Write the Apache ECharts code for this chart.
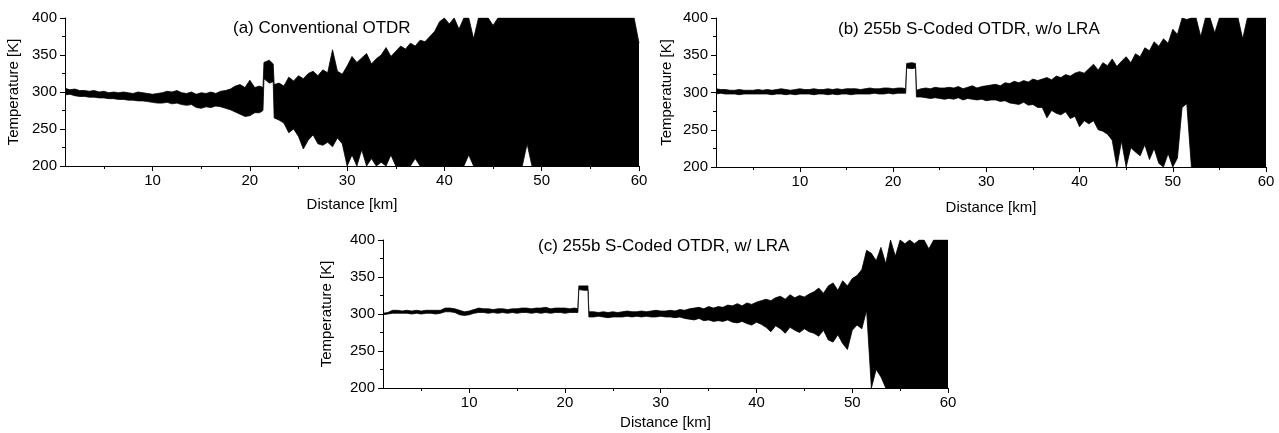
<!DOCTYPE html>
<html>
<head>
<meta charset="utf-8">
<script src="https://cdn.jsdelivr.net/npm/echarts@6/dist/echarts.min.js"></script>
<style>html,body{margin:0;padding:0;background:#fff}#chart{width:1279px;height:433px}</style>
</head>
<body>
<div id="chart"></div>
<script>
// Panel titles and axis names
const panelTitles = ['(a) Conventional OTDR', '(b) 255b S-Coded OTDR, w/o LRA', '(c) 255b S-Coded OTDR, w/ LRA'];
const xName = 'Distance [km]';
const yName = 'Temperature [K]';
const xMajorTicks = [10, 20, 30, 40, 50, 60];
const xMinorTicks = [5, 15, 25, 35, 45, 55];
// Sample positions: every 0.5 km from 1 to 60 km, plus the edges of the heated section
const sampleStart = 1, sampleEnd = 60, sampleStep = 0.5;
const heatedEdges = [21.35, 21.45, 22.4];

// Upper (HI) and lower (LO) extent of the noisy trace at each sample [K]
const aHi = [
  305,303,304,302,302,301,302,300,301,299,
  300,299,300,299,298,300,299,298,297,298,
  299,301,300,302,299,298,300,297,299,298,
  300,298,301,302,304,308,310,306,316,306,
  308,306,340,341,343,338,310,312,308,320,315,322,318,
  325,328,322,330,326,357,328,324,335,348,
  340,346,352,338,345,350,360,348,355,362,
  358,366,362,370,368,375,382,395,400,392,
  400,385,400,400,372,400,400,400,390,400,
  400,400,400,400,400,400,400,400,400,400,
  400,400,400,400,400,400,400,400,400,400,
  400,400,400,400,400,400,400,400,366];
const aLo = [
  296,297,295,294,294,293,293,292,292,291,
  291,290,290,289,289,288,288,287,286,285,
  285,286,284,285,283,282,283,279,278,280,
  279,281,280,278,276,273,270,267,268,272,
  272,275,318,316,312,314,265,262,258,245,250,240,223,
  235,242,230,228,232,226,238,230,200,215,
  200,222,200,210,200,205,200,215,200,200,
  200,200,210,200,200,200,200,200,200,200,
  200,200,200,215,200,200,200,200,200,200,
  200,200,200,200,200,230,200,200,200,200,
  200,200,200,200,200,200,200,200,200,200,
  200,200,200,200,200,200,200,200,200];

const bHi = [
  305,304,304,303,303,304,303,303,303,304,
  303,304,303,304,305,304,303,304,305,304,
  304,305,304,304,305,304,305,304,305,305,
  305,304,305,306,305,305,306,306,305,306,
  306,305,339,339,340,339,303,305,306,305,307,306,306,
  307,306,308,305,307,309,306,308,309,310,
  311,309,313,312,315,313,316,314,318,316,
  318,320,317,322,320,324,322,326,328,326,
  332,338,330,340,336,345,335,342,348,340,
  352,348,360,356,368,362,372,366,385,378,
  400,398,400,400,375,400,400,380,400,400,
  400,400,400,372,400,400,400,400,400];
const bLo = [
  298,299,298,298,298,297,298,298,298,298,
  298,298,297,298,298,297,298,297,298,298,
  298,297,298,298,297,298,297,298,298,297,
  298,298,298,298,299,298,298,299,298,299,
  299,299,333,333,332,333,294,294,293,292,293,292,291,
  292,291,293,290,292,291,290,291,289,290,
  290,288,289,286,285,284,287,283,284,280,
  280,266,276,272,270,274,265,268,254,262,
  258,262,250,248,244,236,200,235,200,226,
  220,215,230,210,225,205,200,218,200,212,
  280,285,200,200,200,200,200,200,200,200,
  200,200,200,200,200,200,200,200,200];

const cHi = [
  301,302,305,305,304,305,304,305,304,305,
  305,305,305,308,308,307,305,303,304,306,
  308,307,307,306,307,307,306,307,307,308,
  308,307,308,308,309,307,308,308,308,307,
  308,307,338,339,338,338,303,303,302,303,302,303,302,
  303,304,303,303,304,303,304,305,304,304,
  305,304,306,305,307,308,309,307,310,308,
  310,309,312,311,314,311,315,313,316,318,
  320,318,322,324,320,326,322,325,323,327,
  330,335,328,338,342,332,345,338,348,352,
  360,386,382,372,390,368,400,378,400,395,
  400,395,400,400,388,400,400,400,400];
const cLo = [
  299,300,301,301,301,301,300,301,300,301,
  301,300,301,303,303,302,299,298,299,301,
  302,302,301,302,301,302,301,302,301,302,
  302,301,302,301,302,301,302,302,301,302,
  302,302,333,333,332,332,296,296,297,296,295,296,296,
  296,297,296,297,296,297,296,296,297,296,
  296,295,296,294,293,292,294,291,292,290,
  291,290,292,289,288,290,287,285,289,286,
  282,276,284,280,274,282,278,275,280,276,
  274,270,278,265,262,272,260,252,278,285,
  280,305,200,225,215,200,200,200,200,200,
  200,200,200,200,200,200,200,200,200];

// Sample positions (km)
const distances = [];
for (let i = 0; sampleStart + i * sampleStep <= sampleEnd; i++) distances.push(sampleStart + i * sampleStep);
heatedEdges.forEach(function (d) { distances.push(d); });
distances.sort(function (p, q) { return p - q; });

function pairUp(vals) { return vals.map(function (v, i) { return [distances[i], v]; }); }

const FONT = '"Liberation Sans", Arial, Helvetica, sans-serif';
const grids = [
  { left: 65, top: 18, width: 574, height: 148 },
  { left: 716, top: 18, width: 550, height: 149 },
  { left: 383, top: 240, width: 565, height: 148 }
];
const xGaps = [31, 33, 27];
const yGaps = [44, 42, 49];
const panels = [[aHi, aLo], [bHi, bLo], [cHi, cLo]];

const xAxes = [], yAxes = [], series = [];
grids.forEach(function (g, k) {
  xAxes.push({
    type: 'value', gridIndex: k, min: 1, max: 60, position: 'bottom', z: 5,
    name: xName, nameLocation: 'middle', nameGap: xGaps[k],
    nameTextStyle: { fontFamily: FONT, fontSize: 15, color: '#000' },
    axisLine: { show: true, lineStyle: { color: '#000', width: 1 } },
    axisTick: { show: true, customValues: xMajorTicks, length: 5, lineStyle: { color: '#000' } },
    axisLabel: { customValues: xMajorTicks, margin: 7, fontFamily: FONT, fontSize: 15, color: '#000' },
    splitLine: { show: false }
  });
  xAxes.push({
    type: 'value', gridIndex: k, min: 1, max: 60, position: 'bottom', z: 5,
    axisLine: { show: false },
    axisTick: { show: true, customValues: xMinorTicks, length: 3, lineStyle: { color: '#000' } },
    axisLabel: { show: false },
    splitLine: { show: false }
  });
  yAxes.push({
    type: 'value', gridIndex: k, min: 200, max: 400, interval: 50, z: 5,
    name: yName, nameLocation: 'middle', nameGap: yGaps[k],
    nameTextStyle: { fontFamily: FONT, fontSize: 15, color: '#000' },
    axisLine: { show: true, lineStyle: { color: '#000', width: 1 } },
    axisTick: { show: true, length: 5, lineStyle: { color: '#000' } },
    minorTick: { show: true, splitNumber: 2, length: 3, lineStyle: { color: '#000' } },
    axisLabel: { margin: 8, fontFamily: FONT, fontSize: 15, color: '#000' },
    splitLine: { show: false }
  });
  const hi = panels[k][0], lo = panels[k][1];
  // upper edge, filled black down to the axis
  series.push({
    type: 'line', xAxisIndex: 2 * k, yAxisIndex: k, data: pairUp(hi), z: 2,
    showSymbol: false, symbol: 'none', clip: true,
    lineStyle: { color: '#000', width: 0.8 },
    areaStyle: { color: '#000', opacity: 1, origin: 'start' }
  });
  // lower edge, white below it so only the band between the edges stays black
  series.push({
    type: 'line', xAxisIndex: 2 * k, yAxisIndex: k, data: pairUp(lo), z: 3,
    showSymbol: false, symbol: 'none', clip: true,
    lineStyle: { color: '#000', width: 0.8 },
    areaStyle: { color: '#fff', opacity: 1, origin: 'start' }
  });
});

const titles = [
  { left: 233, top: 20 },
  { left: 838, top: 21 },
  { left: 538, top: 238 }
].map(function (p, k) {
  return {
    text: panelTitles[k], left: p.left, top: p.top, padding: 0,
    textStyle: { fontFamily: FONT, fontSize: 17, fontWeight: 'normal', color: '#000', lineHeight: 17 }
  };
});

const chart = echarts.init(document.getElementById('chart'), null, { renderer: 'canvas' });
chart.setOption({
  animation: false,
  backgroundColor: '#fff',
  title: titles,
  grid: grids,
  xAxis: xAxes,
  yAxis: yAxes,
  series: series
});
</script>
</body>
</html>
